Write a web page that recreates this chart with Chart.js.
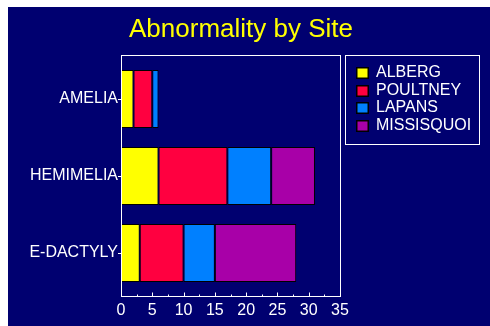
<!DOCTYPE html>
<html>
<head>
<meta charset="utf-8">
<script src="https://cdn.jsdelivr.net/npm/chart.js@4"></script>
<style>
html,body{margin:0;padding:0;background:#fff;}
#wrap{width:490px;height:326px;position:relative;}
</style>
</head>
<body>
<div id="wrap"><canvas id="c" width="490" height="326"></canvas></div>
<script>
const titleText = "Abnormality by Site";
const categories = ["AMELIA", "HEMIMELIA", "E-DACTYLY"];
const seriesNames = ["ALBERG", "POULTNEY", "LAPANS", "MISSISQUOI"];
const alberg = [2, 6, 3];
const poultney = [3, 11, 7];
const lapans = [1, 7, 5];
const missisquoi = [0, 7, 13];
const xTicks = [0, 5, 10, 15, 20, 25, 30, 35];
const colors = ["#FFFF00", "#FF0040", "#0080FF", "#A800A8"];

const NAVY = "#000070";
const seriesValues = [alberg, poultney, lapans, missisquoi];

const decor = {
  id: "decor",
  beforeDraw(chart) {
    const ctx = chart.ctx;
    ctx.save();
    ctx.fillStyle = "#ffffff";
    ctx.fillRect(0, 0, chart.width, chart.height);
    ctx.fillStyle = NAVY;
    ctx.fillRect(8, 7, chart.width - 8, chart.height - 7);
    ctx.restore();
  },
  afterDraw(chart) {
    const ctx = chart.ctx;
    const ca = chart.chartArea;
    const xs = chart.scales.x;
    const top = ca.top - 5.5, bottom = ca.bottom + 4.5;
    ctx.save();
    // plot frame
    ctx.strokeStyle = "#ffffff";
    ctx.lineWidth = 1;
    ctx.strokeRect(Math.round(ca.left) + 0.5, Math.round(top) + 0.5,
                   Math.round(ca.right - ca.left), Math.round(bottom - top));
    // x ticks inside, major and minor
    const yb = Math.round(bottom) + 0.5;
    for (let v = xs.min; v <= xs.max + 1e-9; v += 2.5) {
      const px = Math.round(xs.getPixelForValue(v)) + 0.5;
      const major = Math.abs(v % 5) < 1e-9;
      ctx.beginPath();
      ctx.moveTo(px, yb);
      ctx.lineTo(px, yb - (major ? 4 : 2));
      ctx.stroke();
    }
    // title
    ctx.fillStyle = "#FFFF00";
    ctx.font = "26px 'Liberation Sans', Arial, sans-serif";
    ctx.textAlign = "center";
    ctx.textBaseline = "alphabetic";
    ctx.fillText(titleText, 241, 37);
    // legend box
    ctx.strokeStyle = "#ffffff";
    ctx.strokeRect(345.5, 55.5, 134, 89);
    ctx.font = "16px 'Liberation Sans', Arial, sans-serif";
    ctx.textAlign = "left";
    chart.data.datasets.forEach((ds, i) => {
      const base = 77 + i * 17.7;
      const sy = Math.round(base - 10);
      ctx.fillStyle = "#000000";
      ctx.fillRect(356, sy, 13, 12);
      ctx.fillStyle = ds.backgroundColor;
      ctx.fillRect(357.5, sy + 1.5, 10, 9);
      ctx.fillStyle = "#ffffff";
      ctx.fillText(ds.label, 376, base);
    });
    ctx.restore();
  }
};

new Chart(document.getElementById("c"), {
  type: "bar",
  data: {
    labels: categories,
    datasets: seriesNames.map((n, i) => ({
      label: n,
      data: seriesValues[i],
      backgroundColor: colors[i],
      borderColor: "#000000",
      borderWidth: 1,
      borderSkipped: false,
      categoryPercentage: 1,
      barPercentage: 0.753
    }))
  },
  options: {
    indexAxis: "y",
    responsive: false,
    animation: false,
    devicePixelRatio: 1,
    layout: { padding: { left: 0, right: 150, top: 60.5, bottom: 0 } },
    plugins: { legend: { display: false }, title: { display: false }, tooltip: { enabled: false } },
    scales: {
      x: {
        stacked: true,
        min: 0,
        max: 35,
        afterBuildTicks(scale) { scale.ticks = xTicks.map(v => ({ value: v })); },
        afterFit(scale) { scale.height = 326 - 291.5; },
        grid: { display: false, drawTicks: false },
        border: { display: false },
        ticks: {
          color: "#ffffff",
          padding: 9,
          maxRotation: 0,
          autoSkip: false,
          font: { family: "'Liberation Sans', Arial, sans-serif", size: 16 }
        }
      },
      y: {
        stacked: true,
        afterFit(scale) { scale.width = 121; },
        grid: {
          display: true,
          drawOnChartArea: false,
          drawTicks: true,
          tickLength: 3,
          offset: false,
          color: "#ffffff",
          lineWidth: 1
        },
        border: { display: false },
        ticks: {
          color: "#ffffff",
          padding: 0,
          font: { family: "'Liberation Sans', Arial, sans-serif", size: 16 }
        }
      }
    }
  },
  plugins: [decor]
});
</script>
</body>
</html>
